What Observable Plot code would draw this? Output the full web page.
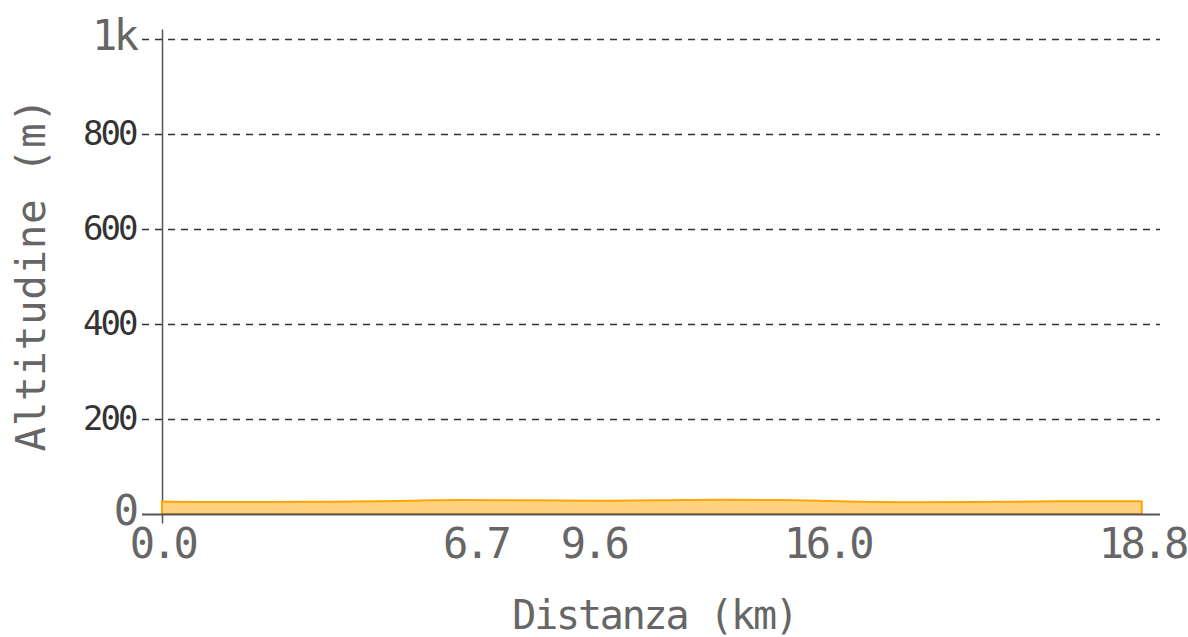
<!DOCTYPE html>
<html>
<head>
<meta charset="utf-8">
<script src="https://cdn.jsdelivr.net/npm/d3@7"></script>
<script src="https://cdn.jsdelivr.net/npm/@observablehq/plot@0.6"></script>
<style>
  html, body { margin: 0; padding: 0; background: #fff; }
  #chart svg { display: block; }
  #chart g[font-size="42"] text { letter-spacing: -3.5px; }
  #chart g[font-size="34"] text { letter-spacing: -3px; }
</style>
</head>
<body>
<div id="chart"></div>
<script>
// Profile samples (position along the x scale, elevation in m)
const profileX    = [0, 0.73, 1.88, 3.22, 4.57, 5.14, 5.72, 6.87, 8.4, 9.56, 10.7, 11.86, 12.82, 13.6, 14.35, 15.7, 17.2, 18.8];
const profileElev = [26.5, 25.3, 25.3, 26, 27.4, 28.8, 29.5, 28.8, 28, 28.8, 30, 29.5, 27.4, 25.3, 24.6, 25.3, 26.7, 26.7];

// X axis ticks (position on the scale) and their labels (km)
const xTickPos    = [0, 6.01, 8.27, 12.76, 18.8];
const xTickLabels = ["0.0", "6.7", "9.6", "16.0", "18.8"];

// Y axis ticks
const yTicksMinor = [200, 400, 600, 800];
const yTicksMajor = [0, 1000];
const yTickMajorLabels = ["0", "1k"];

const xTitle = "Distanza (km)";
const yTitle = "Altitudine (m)";

const profile = profileX.map((x, i) => ({x, elev: profileElev[i]}));
const xLabelMap = new Map(xTickPos.map((p, i) => [p, xTickLabels[i]]));
const yLabelMap = new Map(yTicksMajor.map((p, i) => [p, yTickMajorLabels[i]]));

const plot = Plot.plot({
  width: 1188,
  height: 637,
  marginLeft: 142,
  marginRight: 28,
  marginTop: 39,
  marginBottom: 123,
  style: {fontFamily: "'DejaVu Sans Mono', monospace", background: "#fff"},
  x: {domain: [-0.384, 19.15]},
  y: {domain: [0, 1000]},
  marks: [
    Plot.ruleY(yTicksMinor.concat([1000]), {stroke: "#333", strokeWidth: 1.3, strokeDasharray: "7,6"}),
    Plot.ruleX([0], {y1: -20, y2: 1020, stroke: "#555", strokeWidth: 1.5}),
    Plot.areaY(profile, {x: "x", y: "elev", fill: "#ffd27f", stroke: "#ffa500", strokeWidth: 2, curve: "monotone-x"}),
    Plot.ruleY([0], {stroke: "#555", strokeWidth: 2}),
    Plot.axisX(xTickPos, {tickSize: 0, tickPadding: 14, fontSize: 42, fill: "#666", tickFormat: d => xLabelMap.get(d), label: null}),
    Plot.axisY(yTicksMinor, {tickSize: 0, tickPadding: 7, fontSize: 34, fill: "#333", label: null}),
    Plot.axisY(yTicksMajor, {tickSize: 0, tickPadding: 7, fontSize: 42, fill: "#666", dy: -2.5, tickFormat: d => yLabelMap.get(d), label: null}),
    Plot.text([xTitle], {frameAnchor: "bottom", textAnchor: "middle", lineAnchor: "middle", dy: 102, dx: 3, fontSize: 40, fill: "#666"}),
    Plot.text([yTitle], {frameAnchor: "left", textAnchor: "middle", lineAnchor: "middle", rotate: -90, dx: -111, dy: -2.5, fontSize: 41, fill: "#666"})
  ]
});
document.getElementById("chart").appendChild(plot);
d3.select(plot).selectAll("text")
  .filter(function() { return this.textContent === xTitle; })
  .style("letter-spacing", "-2.2px");
d3.select(plot).selectAll("text")
  .filter(function() { return this.textContent === yTitle; })
  .style("letter-spacing", "0.6px");
</script>
</body>
</html>
